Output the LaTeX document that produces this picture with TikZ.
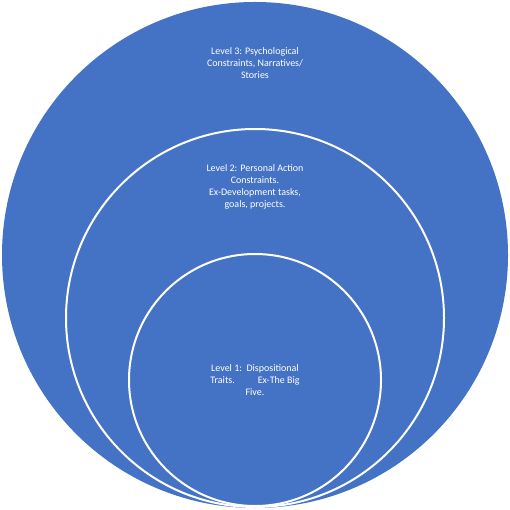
\documentclass[tikz,border=0pt]{standalone}
\usepackage{fontspec}
\setmainfont{Carlito}
\definecolor{officeblue}{HTML}{4472C4}
\begin{document}
\begin{tikzpicture}[x=1pt,y=-1pt,
  ring/.style={fill=officeblue,draw=white,line width=2pt},
  lbl/.style={text=white,font=\fontsize{10}{11.8}\selectfont,inner sep=0pt}]
\useasboundingbox (0,0) rectangle (510,510);
\fill[officeblue] (255,255) circle (253);
\node[ring,circle,minimum size=378pt,inner sep=0pt] (lvtwo) at (255,318) {};
\node[ring,circle,minimum size=252pt,inner sep=0pt] (lvone) at (255,380) {};
\node[lbl] (t3) at (255,64) {\begin{tabular}{@{}c@{}}Level 3: Psychological\\Constraints, Narratives/\\Stories\end{tabular}};
\node[lbl] (t2) at (255,187) {\begin{tabular}{@{}c@{}}Level 2: Personal Action\\Constraints.\\Ex-Development tasks,\\goals, projects.\end{tabular}};
\node[lbl] (t1) at (255,381) {\begin{tabular}{@{}c@{}}Level 1:\ \ Dispositional\\Traits.\hspace{23pt}Ex-The Big\hspace{9pt}\\Five.\end{tabular}};
\end{tikzpicture}
\end{document}
